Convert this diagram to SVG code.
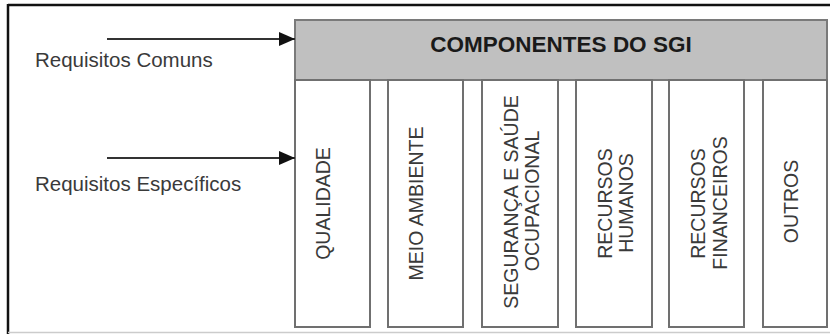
<svg xmlns="http://www.w3.org/2000/svg" width="830" height="334" viewBox="0 0 830 334">
<defs>
<marker id="ah" viewBox="0 0 16 14" refX="16" refY="7" markerWidth="16" markerHeight="14" markerUnits="userSpaceOnUse" orient="auto">
<path d="M0,0 L16,7 L0,14 Z" fill="#111"/>
</marker>
</defs>
<style>
.lbl{font-family:"Liberation Sans",Arial,sans-serif;font-size:20.5px;fill:#3a3a3a}
.col{fill:#fff;stroke:#707070;stroke-width:2}
.ct{font-family:"Liberation Sans",Arial,sans-serif;font-size:19.5px;fill:#3a3a3a;text-anchor:middle}
.conn{stroke:#333;stroke-width:2;fill:none}
</style>
<rect width="830" height="334" fill="#fff"/>
<g id="frame">
<line x1="8" y1="5" x2="830" y2="5" stroke="#111" stroke-width="2.5"/>
<line x1="8" y1="4" x2="8" y2="334" stroke="#111" stroke-width="2.5"/>
<line x1="8" y1="332.5" x2="830" y2="332.5" stroke="#ccc" stroke-width="1.5"/>
</g>
<g id="header">
<rect x="295" y="20" width="532" height="60" fill="#c0c0c0" stroke="#7a7a7a" stroke-width="2"/>
<text x="561" y="52" font-family="'Liberation Sans',Arial,sans-serif" font-size="22.5" font-weight="bold" fill="#1a1a1a" text-anchor="middle">COMPONENTES DO SGI</text>
</g>
<g id="req-comuns">
<text class="lbl" x="35" y="67">Requisitos Comuns</text>
</g>
<g id="req-especificos">
<text class="lbl" x="35" y="191">Requisitos Específicos</text>
</g>
<g id="col-qualidade">
<rect class="col" x="295" y="80" width="75" height="247"/>
<text class="ct" transform="translate(330,203.5) rotate(-90)">QUALIDADE</text>
</g>
<g id="col-meio-ambiente">
<rect class="col" x="388" y="80" width="75" height="247"/>
<text class="ct" transform="translate(423,203.5) rotate(-90)">MEIO AMBIENTE</text>
</g>
<g id="col-seguranca">
<rect class="col" x="482" y="80" width="76" height="247"/>
<text class="ct" transform="translate(518,202) rotate(-90)">SEGURANÇA E SAÚDE</text>
<text class="ct" transform="translate(539,201) rotate(-90)">OCUPACIONAL</text>
</g>
<g id="col-rh">
<rect class="col" x="576" y="80" width="76" height="247"/>
<text class="ct" transform="translate(612,203.5) rotate(-90)">RECURSOS</text>
<text class="ct" transform="translate(633,203) rotate(-90)">HUMANOS</text>
</g>
<g id="col-rf">
<rect class="col" x="669" y="80" width="75" height="247"/>
<text class="ct" transform="translate(705,203.5) rotate(-90)">RECURSOS</text>
<text class="ct" transform="translate(727,203) rotate(-90)">FINANCEIROS</text>
</g>
<g id="col-outros">
<rect class="col" x="763" y="80" width="64" height="247"/>
<text class="ct" transform="translate(798,201.5) rotate(-90)">OUTROS</text>
</g>
<g id="connectors">
<line class="conn" x1="107" y1="39" x2="295" y2="39" marker-end="url(#ah)"/>
<line class="conn" x1="107" y1="158" x2="295" y2="158" marker-end="url(#ah)"/>
</g>
</svg>
